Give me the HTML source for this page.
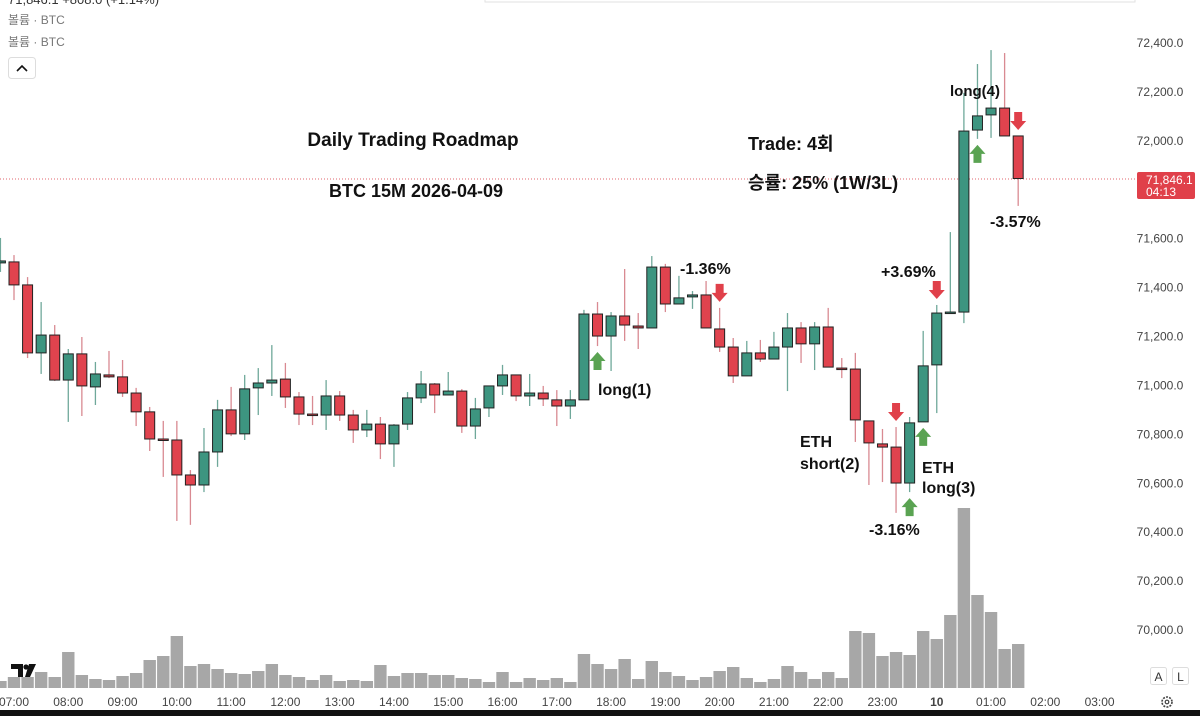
<!DOCTYPE html>
<html><head><meta charset="utf-8">
<style>
html,body{margin:0;padding:0;background:#fff;}
body{width:1200px;height:716px;overflow:hidden;position:relative;font-family:"Liberation Sans","Noto Sans CJK KR",sans-serif;}
svg{position:absolute;left:0;top:0;}
.ann{font-family:"Liberation Sans","Noto Sans CJK KR",sans-serif;font-weight:bold;fill:#111;}
</style></head>
<body>
<svg id="chart" width="1200" height="716" viewBox="0 0 1200 716">
  <rect x="485" y="-6" width="650" height="8" fill="#fff" stroke="#e2e2e2"/>
  <text x="8" y="4" font-size="13" fill="#333">71,846.1 +808.0 (+1.14%)</text>
  <text x="8" y="24" font-size="12" fill="#777">볼륨 · BTC</text>
  <text x="8" y="46" font-size="12" fill="#777">볼륨 · BTC</text>
  <g>
    <rect x="8.5" y="57.5" width="27" height="21" rx="3" fill="#fff" stroke="#ddd"/>
    <path d="M17 71 L22 66 L27 71" fill="none" stroke="#111" stroke-width="1.6"/>
  </g>
  <line x1="0" y1="179" x2="1137" y2="179" stroke="#e0646c" stroke-width="1" stroke-dasharray="1,2"/>
  <g id="vol"></g>
  <g id="candles"></g>
  <g id="yaxis"></g>
  <g id="xaxis"></g>
  <g>
    <rect x="1137" y="172" width="58" height="27" rx="2" fill="#e0404a"/>
    <text x="1146" y="184" font-size="12" fill="#fff">71,846.1</text>
    <text x="1146" y="196" font-size="12" fill="#fff">04:13</text>
  </g>
  <g>
    <path d="M11 664 H23 V677 H18 V669 H11 Z" fill="#111"/>
    <circle cx="26" cy="667" r="2.6" fill="#111"/>
    <path d="M29 664 H36 L30 677 H25 Z" fill="#111"/>
  </g>
  <g><rect x="1150.5" y="667.5" width="16" height="17" rx="2" fill="#fff" stroke="#ddd"/><text x="1158.5" y="681" font-size="12" fill="#333" text-anchor="middle">A</text></g>
  <g><rect x="1172.5" y="667.5" width="16" height="17" rx="2" fill="#fff" stroke="#ddd"/><text x="1180.5" y="681" font-size="12" fill="#333" text-anchor="middle">L</text></g>
  <g><circle cx="1167" cy="702" r="5" fill="none" stroke="#444" stroke-width="1.6" stroke-dasharray="2,1.2"/><circle cx="1167" cy="702" r="1.8" fill="none" stroke="#444" stroke-width="1.2"/></g>
  <rect x="0" y="710" width="1200" height="6" fill="#111"/>

  <text class="ann" x="413" y="146" font-size="19" text-anchor="middle">Daily Trading Roadmap</text>
  <text class="ann" x="416" y="197" font-size="18" text-anchor="middle">BTC 15M 2026-04-09</text>
  <text class="ann" x="748" y="150" font-size="18">Trade: 4회</text>
  <text class="ann" x="748" y="189" font-size="18">승률: 25% (1W/3L)</text>
  <text class="ann" x="598" y="395" font-size="16">long(1)</text>
  <text class="ann" x="680" y="274" font-size="16">-1.36%</text>
  <text class="ann" x="800" y="447" font-size="16">ETH</text>
  <text class="ann" x="800" y="469" font-size="16">short(2)</text>
  <text class="ann" x="869" y="535" font-size="16">-3.16%</text>
  <text class="ann" x="922" y="473" font-size="16">ETH</text>
  <text class="ann" x="922" y="493" font-size="16">long(3)</text>
  <text class="ann" x="881" y="277" font-size="16">+3.69%</text>
  <text class="ann" x="950" y="96" font-size="15">long(4)</text>
  <text class="ann" x="990" y="227" font-size="16">-3.57%</text>
  <g id="arrows"></g>
</svg>
<script>
const candleOpen=[71501,71505,71411,71133,71206,71022,71129,70994,71043,71035,70969,70892,70781,70777,70634,70593,70728,70900,70802,70990,71010,71026,70953,70883,70879,70957,70879,70818,70842,70761,70842,70949,71006,70961,70977,70834,70908,70998,71043,70957,70969,70941,70916,70941,71292,71202,71284,71243,71235,71484,71333,71362,71370,71231,71157,71039,71133,71108,71157,71235,71170,71239,71071,71067,70855,70761,70748,70601,70851,71084,71296,71300,72044,72106,72134,72020];
const candleClose=[71509,71411,71133,71206,71022,71129,70998,71047,71035,70969,70892,70781,70777,70634,70593,70728,70900,70802,70986,71010,71022,70953,70883,70879,70957,70879,70818,70842,70761,70838,70949,71006,70961,70977,70834,70904,70998,71043,70957,70969,70945,70916,70941,71292,71202,71284,71247,71235,71484,71333,71358,71370,71235,71157,71039,71133,71108,71157,71235,71170,71239,71075,71067,70859,70765,70748,70601,70847,71080,71296,71300,72040,72102,72134,72020,71846];
const candleHigh=[71603,71533,71443,71341,71247,71149,71198,71096,71141,71104,70990,70912,70855,70855,70654,70826,70941,70994,71043,71071,71165,71092,70973,70957,71022,70977,70900,70900,70871,70842,70973,71059,71010,71055,70985,70949,70998,71084,71043,71047,70998,70981,70981,71309,71341,71300,71476,71296,71529,71497,71448,71386,71427,71317,71194,71182,71186,71219,71296,71259,71259,71317,71112,71133,70855,70822,70830,70871,71223,71329,71627,72196,72314,72371,72359,72020];
const candleLow=[71464,71349,71112,71047,71018,70851,70875,70920,71030,70953,70834,70732,70626,70446,70430,70564,70667,70793,70777,70879,70957,70908,70838,70838,70818,70855,70765,70789,70699,70667,70818,70928,70887,70961,70806,70781,70871,70961,70936,70916,70916,70834,70863,70941,71161,71059,71182,71149,71235,71300,71333,71313,71235,71137,71010,71039,71096,71108,70977,71092,71063,71075,71030,70769,70593,70605,70479,70564,70851,70887,71296,71255,72008,72012,72020,71734];
const volumes=[7,11,11,16,11,36,13,9,8,12,15,28,32,52,22,24,19,15,14,17,24,13,11,8,13,7,8,7,23,12,15,15,13,13,10,9,6,16,6,10,8,10,6,34,24,19,29,9,27,16,12,8,11,17,21,10,6,9,22,16,9,16,10,57,55,32,36,33,57,49,73,180,93,76,39,44];
const priceTicks=[72400,72200,72000,71600,71400,71200,71000,70800,70600,70400,70200,70000];
const timeLabels=["07:00","08:00","09:00","10:00","11:00","12:00","13:00","14:00","15:00","16:00","17:00","18:00","19:00","20:00","21:00","22:00","23:00","10","01:00","02:00","03:00"];
const longArrows=[43,66,67,71];
const shortArrows=[52,68,65,74];
</script>
<script>
const NS="http://www.w3.org/2000/svg";
const firstIndex=-1, slot=13.57, x0=14;
function xAt(i){return x0+(i+firstIndex)*slot;}
function yAt(p){return 43+(72400-p)*0.2446;}
function volY(v){return 688-v;}
function mk(tag,attrs,parent){const e=document.createElementNS(NS,tag);for(const k in attrs)e.setAttribute(k,attrs[k]);parent.appendChild(e);return e;}
const vol=document.getElementById('vol');
volumes.forEach((v,i)=>{const x=xAt(i);
  const r=mk('rect',{x:x-6.2,y:volY(v),width:12.4,height:v,fill:'#a7a7a7'},vol);
  
  });
const cg=document.getElementById('candles');
candleOpen.forEach((o,i)=>{const c=candleClose[i],h=candleHigh[i],l=candleLow[i];const x=xAt(i);
  const up=c>=o;const wick=up?'#6fa89a':'#d98a92';const fill=up?'#3d9580':'#e0434e';
  const g=mk('g',{},cg);
  
  
  mk('line',{x1:x,x2:x,y1:yAt(h),y2:yAt(l),stroke:wick,'stroke-width':1.3},g);
  const top=yAt(Math.max(o,c)),bot=yAt(Math.min(o,c));
  mk('rect',{x:x-5,y:top,width:10,height:Math.max(bot-top,1.5),fill:fill,stroke:'#222','stroke-width':1},g);});
const ya=document.getElementById('yaxis');
priceTicks.forEach(p=>{const t=mk('text',{x:1160,y:yAt(p)+4,'font-size':12,fill:'#444','text-anchor':'middle'},ya);t.textContent=p.toLocaleString('en-US',{minimumFractionDigits:1});
  
  });
const xa=document.getElementById('xaxis');
timeLabels.forEach((s,k)=>{const t=mk('text',{x:xAt(k*4+1),y:706,'font-size':12,fill:'#444','text-anchor':'middle','font-weight':s==='10'?'bold':'normal'},xa);t.textContent=s;
  
  });
const ag=document.getElementById('arrows');
function arrow(x,y,up,color){const d=up?`M${x} ${y} L${x+8} ${y+9} L${x+4} ${y+9} L${x+4} ${y+18} L${x-4} ${y+18} L${x-4} ${y+9} L${x-8} ${y+9} Z`:`M${x} ${y+18} L${x+8} ${y+9} L${x+4} ${y+9} L${x+4} ${y} L${x-4} ${y} L${x-4} ${y+9} L${x-8} ${y+9} Z`;
  const p=mk('path',{d:d,fill:color},ag);
  
  }
longArrows.forEach(i=>{const x=xAt(i+1);arrow(x,yAt(candleLow[i+1])+6,true,'#5aa352');});
shortArrows.forEach(i=>{const x=xAt(i+1);arrow(x,yAt(candleHigh[i+1])-24,false,'#e0404a');});
</script>
</body></html>
